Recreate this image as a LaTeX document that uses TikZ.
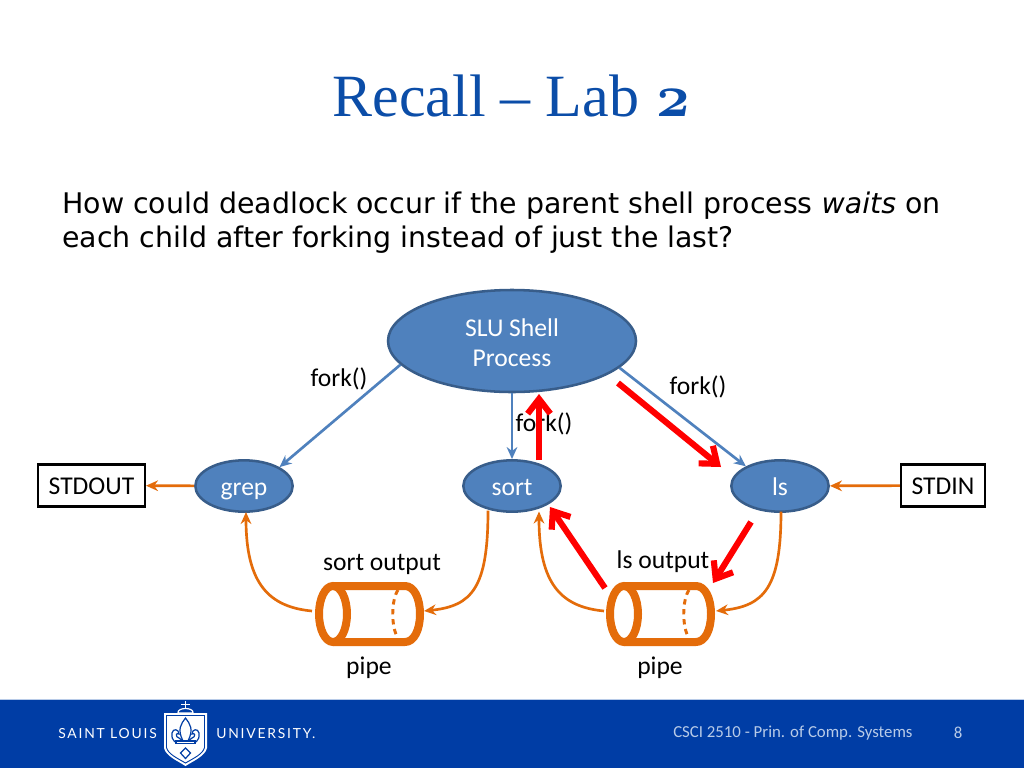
\documentclass[tikz,border=0pt]{standalone}
\usepackage{fontspec}
\setmainfont{Carlito}
\newfontfamily\bodyfont{DejaVu Sans}
\newfontfamily\titlefont{Liberation Serif}
\newfontfamily\titlenum{Latin Modern Roman}[Numbers=OldStyle]
\newfontfamily\logofont{Lato}[LetterSpace=13]
\usetikzlibrary{arrows.meta,shapes.geometric}
\definecolor{slublue}{HTML}{003DA5}
\definecolor{titleblue}{HTML}{0B4DA8}
\definecolor{procfill}{HTML}{4F81BD}
\definecolor{procline}{HTML}{385D8A}
\definecolor{pipeorange}{HTML}{E46C0A}
\definecolor{footertext}{HTML}{B8CBE8}
\newcommand{\smallstrut}{\rule[-4.5pt]{0pt}{22.5pt}}
\newcommand{\boxstrut}{\rule[-4pt]{0pt}{22pt}}
\tikzset{
  proc/.style={ellipse,draw=procline,line width=1.9pt,fill=procfill,text=white,inner sep=0pt,font=\fontsize{19.2}{23}\selectfont,align=center},
  forkline/.style={draw=procfill,line width=2pt,-{Stealth[length=9pt,width=8pt]}},
  pipeline/.style={draw=pipeorange,line width=2pt,-{Stealth[length=9pt,width=8pt]}},
  redline/.style={draw=red,line width=4.6pt,-{Straight Barb[length=11pt,width=17pt,line width=4.6pt]}},
  lab/.style={text=black,inner sep=0pt,font=\fontsize{19.2}{23}\selectfont},
  iobox/.style={draw=black,line width=1.8pt,fill=white,text=black,inner sep=0pt,minimum height=31.5pt,font=\fontsize{19.2}{23}\selectfont},
  pipebody/.style={draw=pipeorange,line width=6pt},
  pipedash/.style={draw=pipeorange,line width=2.2pt,dash pattern=on 4pt off 3.5pt},
  crest/.style={draw=white,line width=0.9pt},
  fleur/.style={draw=slublue,line width=0.9pt,fill=white},
  logotext/.style={text=white,inner sep=0pt,font=\logofont\fontsize{10.4}{12}\selectfont},
  foot/.style={text=footertext,inner sep=0pt,font=\fontsize{12.6}{15}\selectfont}
}
\begin{document}
\begin{tikzpicture}[x=0.75pt,y=-0.75pt]
\useasboundingbox (0,0) rectangle (1024,768);
\fill[white] (0,0) rectangle (1024,768);
% footer
\fill[slublue] (0,699) rectangle (1024,768);
\draw[draw=footertext,line width=0.5pt] (0,699) -- (1024,699);
\node[logotext,anchor=west] (slul) at (58,734) {SAINT LOUIS};
\node[logotext,anchor=west] (sluu) at (216,734) {UNIVERSITY.};
\node[foot,anchor=west] (course) at (673,733) {CSCI 2510 - Prin. of Comp. Systems};
\node[foot] (pageno) at (958,733) {8};
% crest
\draw[white,line width=1.4pt] (185.5,701) -- (185.5,709);
\draw[white,line width=1.4pt] (181,704.5) -- (190,704.5);
\draw[crest,fill=slublue] (178,713) .. controls (177,707) and (194,707) .. (193,713) -- cycle;
\fill[white] (164,713) -- (207,713) -- (207,748) .. controls (205,756) and (195,760) .. (185.5,766) .. controls (176,760) and (166,756) .. (164,748) -- cycle;
\draw[draw=slublue,line width=0.7pt] (166.5,715.5) -- (204.5,715.5) -- (204.5,747.5) .. controls (203,754) and (194,758) .. (185.5,763) .. controls (177,758) and (168,754) .. (166.5,747.5) -- cycle;
\draw[fleur] (183,741) .. controls (176,745) and (171,741) .. (172,733) .. controls (173,728) and (179,729) .. (179,734) .. controls (176,732) and (175,737) .. (179,738) -- cycle;
\draw[fleur] (188,741) .. controls (195,745) and (200,741) .. (199,733) .. controls (198,728) and (192,729) .. (192,734) .. controls (195,732) and (196,737) .. (192,738) -- cycle;
\draw[fleur] (185.5,718) .. controls (181,724) and (177,729) .. (183,741) -- (188,741) .. controls (194,729) and (190,724) .. (185.5,718) -- cycle;
\draw[fleur] (176,741) rectangle (195,743.5);
\draw[fleur] (185.5,748) -- (190.5,753) -- (185.5,758.5) -- (180.5,753) -- cycle;
% title and body
\node[inner sep=0pt,text=titleblue,font=\titlefont\fontsize{45}{52}\selectfont] (title) at (512,96) {Recall – Lab {\titlenum\bfseries 2}};
\node[inner sep=0pt,anchor=west,text=black,font=\bodyfont\fontsize{21.3}{25.5}\selectfont] (q1) at (62,205.5) {How could deadlock occur if the parent shell process \textit{waits} on};
\node[inner sep=0pt,anchor=west,text=black,font=\bodyfont\fontsize{21.3}{25.5}\selectfont] (q2) at (62,239.5) {each child after forking instead of just the last?};
% process nodes
\node[proc,minimum width=186pt,minimum height=76.5pt] (shell) at (512,341) {\rule{0pt}{16pt}SLU Shell\\Process};
\node[proc,minimum width=73pt,minimum height=38.5pt] (grep) at (244,486) {\smallstrut grep};
\node[proc,minimum width=73pt,minimum height=38.5pt] (sort) at (512,486) {\smallstrut sort};
\node[proc,minimum width=73pt,minimum height=38.5pt] (ls) at (780,486) {\smallstrut ls};
\node[iobox,minimum width=80pt] (stdout) at (91.5,485.5) {\boxstrut STDOUT};
\node[iobox,minimum width=63pt] (stdin) at (943,485.5) {\boxstrut STDIN};
% pipes
\foreach \dx in {0,291}{
  \begin{scope}[xshift=\dx*0.75pt]
    \draw[pipebody,line join=round] (333,586) -- (405,586) .. controls (414,586) and (420,598) .. (420,614) .. controls (420,630) and (414,642) .. (405,642) -- (333,642);
    \draw[pipebody] (333,614) ellipse [x radius=14,y radius=28];
    \draw[pipedash] (398,590) .. controls (391,600) and (391,628) .. (398,638);
  \end{scope}
}
\coordinate (pipeaL) at (312,611);
\coordinate (pipeaR) at (424,611);
\coordinate (pipebL) at (604,611);
\coordinate (pipebR) at (716,611);
\coordinate (grepB) at (246,512);
\coordinate (sortBL) at (488,510.5);
\coordinate (sortBR) at (539,511.5);
\coordinate (lsB) at (781,511.5);
% connectors
\draw[forkline] (shell.192) -- (grep.28);
\draw[forkline] (shell) -- (sort);
\draw[forkline] (shell.346.5) -- (ls.150);
\draw[pipeline] (grep) -- (stdout);
\draw[pipeline] (stdin) -- (ls);
\draw[pipeline] (pipeaL) .. controls (270,607) and (246,585) .. (grepB);
\draw[pipeline] (sortBL) .. controls (488,588) and (472,606) .. (pipeaR);
\draw[pipeline] (pipebL) .. controls (562,607) and (539,585) .. (sortBR);
\draw[pipeline] (lsB) .. controls (781,588) and (764,606) .. (pipebR);
% labels
\node[lab] (f1) at (339,379) {fork()};
\node[lab] (f2) at (544,424) {fork()};
\node[lab] (f3) at (698,387) {fork()};
\node[lab] (so) at (382,564) {sort output};
\node[lab] (lo) at (663,562) {ls output};
\node[lab] (p1) at (369,668) {pipe};
\node[lab] (p2) at (660,668) {pipe};
% red arrows
\coordinate (r1s) at (539,460); \coordinate (r1e) at (539,394);
\coordinate (r2s) at (618,383); \coordinate (r2e) at (721,467);
\coordinate (r3s) at (605,588); \coordinate (r3e) at (550,507);
\coordinate (r4s) at (751,522); \coordinate (r4e) at (713,583);
\draw[redline] (r1s) -- (r1e);
\draw[redline] (r2s) -- (r2e);
\draw[redline] (r3s) -- (r3e);
\draw[redline] (r4s) -- (r4e);
\end{tikzpicture}
\end{document}
